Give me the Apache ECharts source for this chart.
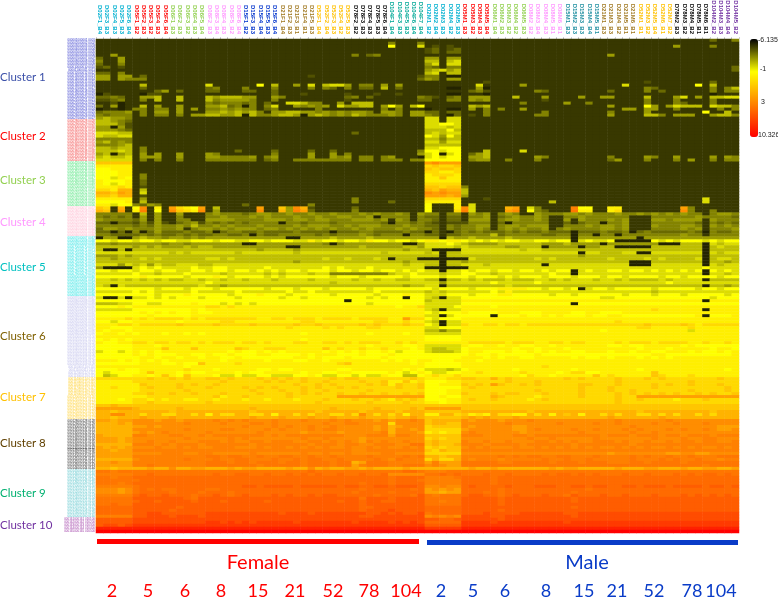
<!DOCTYPE html>
<html><head><meta charset="utf-8">
<style>html,body{margin:0;padding:0;background:#fff}#c{width:778px;height:598px}</style>
<script src="https://cdn.jsdelivr.net/npm/echarts@6/dist/echarts.min.js"></script>
</head><body><div id="c"></div>
<script>
// ---------- value legend ----------
const legendTicks = [-6.135, -1, 3, 10.326];
const levelKeys = 'x0123456789abcdefghijkl';
const levelValues = [-5.4,-5,-4.5,-4,-3.5,-3,-2.3,-1.7,-1,-0.5,0.2,0.8,1.4,2,2.6,3,3.6,4.2,5,6,7,8.5,10.326];
// ---------- column labels ----------
const femaleSamples = ['D02F1_B4','D02F3_B3','D02F4_B3','D02F5_B3','D02F6_B4','D05F1_B2','D05F2_B3','D05F3_B2','D05F4_B3','D05F6_B4','D06F1_B3','D06F2_B3','D06F3_B2','D06F4_B3','D06F5_B4','D08F2_B3','D08F3_B4','D08F4_B3','D08F5_B2','D08F6_B4','D15F1_B2','D15F3_B3','D15F4_B4','D15F5_B3','D15F6_B4','D21F1_B4','D21F2_B3','D21F3_B1','D21F4_B1','D21F5_B3','D52F1_B4','D52F2_B4','D52F3_B3','D52F4_B2','D52F5_B3','D78F2_B2','D78F3_B3','D78F4_B3','D78F5_B3','D78F6_B4','D104F1_B4','D104F3_B3','D104F5_B3','D104F6_B4','D104F7_B4'];
const maleSamples = ['D02M1_B2','D02M2_B4','D02M3_B3','D02M4_B2','D02M5_B3','D05M1_B3','D05M3_B2','D05M4_B3','D05M5_B4','D06M1_B4','D06M2_B3','D06M3_B2','D06M4_B2','D06M5_B3','D08M2_B2','D08M3_B4','D08M4_B3','D08M5_B1','D08M6_B1','D15M1_B3','D15M2_B3','D15M3_B3','D15M4_B4','D15M5_B1','D21M1_B3','D21M3_B3','D21M4_B2','D21M5_B1','D21M6_B1','D52M1_B1','D52M3_B2','D52M5_B4','D52M6_B1','D52M7_B2','D78M2_B3','D78M3_B2','D78M4_B2','D78M5_B1','D78M6_B1','D104M2_B2','D104M3_B3','D104M4_B4','D104M5_B2'];
const sampleGroupSizes = [5,5,5,5,5,5,5,5,5,5,4,5,5,5,5,5,5,4];
const sampleGroupColours = ['#00b0d0','#ff0000','#92d050','#ff99ff','#0033cc','#a07820','#ffc000','#000000','#00a896','#00b0d0','#ff0000','#92d050','#ff99ff','#1f8fa0','#a07820','#ffc000','#000000','#7030a0'];
// ---------- clusters ----------
const clusterNames = ['Cluster 1','Cluster 2','Cluster 3','Cluster 4','Cluster 5','Cluster 6','Cluster 7','Cluster 8','Cluster 9','Cluster 10'];
const clusterTitleColours = ['#3a4fa8','#ff0000','#92d050','#ff99ff','#00c0c0','#7f6000','#ffc000','#604000','#00b070','#7030a0'];
const clusterRowColours = ['#2a30c8','#f03838','#40e070','#ffb0c8','#20e0e0','#b8b8e8','#ffcc20','#181818','#50c0c8','#a040a8'];
const femaleWeeks = ['2','5','6','8','15','21','52','78','104'];
const maleWeeks = ['2','5','6','8','15','21','52','78','104'];
// Each row: "col:level" sparse cells (rest = background level 0), or a full row of level characters.
const cluster1Rows = [
"84:2 87:3",
"40:3 44:3",
"40:7 44:6 46:1 48:1 79:4 84:3",
"45:1 46:2 48:1 49:2",
"45:1 46:2 48:2 49:2",
"2:4 35:3 37:2 38:3 70:4",
"0:2 3:4 45:4 46:4 48:4 49:4",
"0:3 3:4 45:5 46:5 48:5 49:6",
"0:2 3:3 45:4 46:6 48:6 49:6",
"0:1 1:2 3:1 45:3 46:2 48:3 49:3 87:2",
"45:4 46:5 47:6 48:4 49:5 87:2",
"0:2 1:2 3:3 45:5 46:6 48:5 49:5",
"0:4 1:4 3:4 4:4 6:2 29:1 44:1 45:3 46:3 48:x 49:x",
"0:4 1:4 3:4 4:3 5:3 6:3 44:2 45:4 46:3 48:4 49:4",
"53:1 75:1 84:2",
"6:5 15:6 22:7 24:5 27:4 29:6 31:5 32:6 33:6 34:4 36:3 37:3 39:4 41:4 52:6 58:4 72:6 82:7 84:5",
"6:2 15:2 16:3 20:3 24:3 29:3 31:3 32:2 34:3 36:2 37:2 39:5 41:2 48:x 49:x 52:4 53:x 75:3 76:2 84:3 86:3 87:5",
"8:2 9:4 11:2 15:2 16:2 20:2 21:2 24:2 51:2 52:3 53:1 60:3 61:2 70:2 75:3 77:2 84:3 86:3 87:3",
"0:x 1:1 6:x 7:1 8:1 24:2 28:1 34:1 38:1 41:1 48:x 49:x 53:x 84:x",
"0:2 1:2 2:3 3:2 6:4 7:4 8:5 11:5 15:5 16:4 17:5 18:5 19:5 20:4 21:4 24:4 25:3 34:2 35:3 37:2 44:3 45:2 46:1 48:2 49:3 51:4 52:4 53:4 57:5 61:4 66:4 69:4 70:4 75:5 79:4 80:6 82:4 84:5 85:5 86:6 87:6",
"0:1 1:1 2:2 3:3 6:3 8:5 11:5 15:5 16:3 17:4 18:4 19:4 20:4 21:3 24:3 34:1 44:2 45:2 48:3 49:3 51:4 52:3 53:4 61:1 75:3 79:3 84:3",
"2:1 3:x 15:3 16:2 17:3 18:3 19:3 20:2 21:3 23:2 26:6 27:6 28:5 29:3 30:3 33:4 35:5 36:5 37:5 58:3 64:4 67:3 75:3 79:3 80:2 84:3",
"0:2 2:4 3:x 6:5 8:4 11:4 15:4 16:4 17:5 18:2 19:3 20:x 21:3 23:3 24:6 27:4 28:3 29:4 30:3 31:4 33:6 34:4 35:4 36:5 37:5 39:4 40:7 41:4 43:5 44:7 51:5 52:4 53:5 70:4 75:7 76:4 78:4 79:6 80:5 81:5 82:5 84:6 85:5 86:5 87:3",
"0:x 3:x 5:3 6:3 8:3 9:3 11:4 13:4 15:3 16:3 17:4 18:3 19:4 20:3 21:3 23:2 24:3 30:3 39:3 41:3 45:x 48:x 49:x 51:4 53:3 55:3 58:4 72:4 73:4 75:4 76:4 79:3 85:3 87:3",
"0:2 1:3 2:3 3:3 4:4 6:3 8:4 9:4 11:4 15:4 16:4 17:5 18:4 19:5 20:4 21:5 22:3 24:4 25:4 26:5 27:5 28:4 29:4 30:3 31:4 32:3 33:4 34:3 35:4 36:4 37:3 39:4 40:4 41:3 43:4 44:4 45:2 46:2 48:2 49:2 53:3 61:3 70:3 75:4 83:7 86:5",
"0:3 1:2 2:3 3:3 4:3 6:3 8:3 9:3 11:3 13:4 14:4 15:5 16:5 17:4 18:4 19:5 20:x 21:5 22:3 23:3 24:4 25:5 26:5 27:4 28:x 29:4 30:5 31:4 32:3 33:4 34:3 35:5 36:4 37:3 38:3 39:3 40:4 41:3 43:4 44:4 45:3 46:2 48:x 49:2 51:1 53:3 60:3 61:3 70:4 75:5 76:5 77:3 79:4 80:4 81:4 84:4 85:5 86:5 87:3",
"0:4 1:5 2:4 3:4 4:3 45:6 46:6 48:6 49:6"
];
const cluster2Rows = [
"0:5 1:5 2:4 3:3 4:2 45:6 46:6 48:6 49:6",
"0:5 1:5 2:5 3:3 4:1 45:6 46:6 47:7 48:7 49:6",
"0:4 1:4 2:x 3:4 4:1 45:6 46:6 47:6 48:5 49:6",
"0:4 1:4 2:4 3:3 4:2 45:5 46:5 47:5 48:7 49:5",
"0:6 1:6 2:6 3:5 4:5 35:2 45:5 46:6 47:5 48:6 49:6",
"0:6 1:5 2:5 3:6 4:6 45:7 46:6 47:4 48:7 49:5",
"0:3 1:3 2:3 3:3 4:3 45:5 46:5 47:3 48:5 49:5",
"0:4 1:5 2:3 3:4 4:3 45:6 46:6 47:4 48:6 49:6",
"0:3 1:3 2:3 3:4 4:5 45:5 46:5 47:5 48:5 49:5",
"0:5 1:5 2:4 3:5 4:5 6:3 45:6 46:6 47:7 48:7 49:7",
"0:5 1:5 2:5 3:6 4:5 6:3 19:2 24:2 29:2 32:2 44:3 45:7 46:7 47:6 48:7 49:7 53:5 58:6",
"0:4 1:5 2:x 3:4 4:5 6:4 8:4 11:4 15:4 16:3 24:3 29:4 32:4 34:3 44:4 45:6 46:7 47:x 48:6 49:7 51:2 52:4 53:5",
"0:5 1:6 2:5 3:5 4:6 6:4 7:4 8:4 11:4 15:4 16:4 17:3 18:3 19:3 20:3 21:4 23:3 24:4 29:4 32:4 33:3 34:4 36:3 37:3 39:3 40:4 44:x 45:6 46:7 47:6 48:7 49:7 51:4 52:4 53:5 60:4 61:3 70:3 75:4 76:3 79:4 84:4 86:4 87:3",
"0:6 1:6 2:6 3:6 4:6 6:3 8:3 11:3 15:3 16:3 17:3 18:3 19:3 20:3 21:3 23:2 24:3 27:3 28:3 29:3 30:3 31:3 32:3 33:3 34:3 36:3 37:3 39:3 40:3 41:3 43:3 44:3 45:7 46:7 47:7 48:7 49:7 51:3 52:4 53:4 56:3 60:3 70:2 71:4 75:3 79:3 81:4 84:3 86:3 87:3"
];
const cluster3Rows = [
"0:a 1:a 2:a 3:a 4:a 45:c 46:d 47:c 48:c 49:c",
"0:8 1:8 2:8 3:8 4:8 45:9 46:a 47:9 48:9 49:a",
"0:7 1:7 2:8 3:8 4:8 45:a 46:9 47:a 48:a 49:9",
"0:7 1:7 2:7 3:8 4:8 45:9 46:9 47:8 48:8 49:9",
"0:7 1:7 2:7 3:8 4:8 6:3 45:8 46:9 47:9 48:9 49:8",
"0:7 1:7 2:6 3:8 4:7 6:3 45:8 46:8 47:a 48:8 49:8",
"0:8 1:7 2:7 3:7 4:8 6:2 45:8 46:8 47:8 48:8 49:8",
"0:8 1:7 2:6 3:7 4:8 6:2 45:9 46:9 47:9 48:9 49:9",
"0:8 1:8 2:8 3:9 4:8 6:1 45:a 46:a 47:9 48:a 49:a 50:3",
"0:9 1:9 2:8 3:b 4:b 6:5 45:b 46:a 47:c 48:b 49:b 50:5",
"0:b 1:b 2:a 3:c 4:b 6:6 45:d 46:c 47:d 48:c 49:c 50:5",
"0:a 1:a 2:9 3:b 4:b 6:1 45:c 46:c 47:c 48:b 49:c 50:4",
"0:8 1:8 2:8 3:8 4:8 6:4 35:3 45:9 46:9 47:9 48:9 49:9 53:1 83:6",
"0:7 1:7 2:7 3:7 4:8 6:5 35:3 40:2 45:8 46:8 47:8 48:8 49:8 62:5 83:6",
"0:8 1:8 2:6 3:7 4:7 5:3 6:2 7:4 8:3 20:2 29:3 45:7 49:8 51:6"
];
const cluster4Rows = [
"0:a 1:9 3:b 5:7 6:d 8:8 10:c 11:9 12:8 13:7 14:c 16:5 22:c 25:a 26:4 27:d 28:b 29:1 35:2 45:7 49:8 50:d 51:6 56:b 57:c 59:6 60:3 65:e 66:7 67:7 70:8 71:8 80:c 81:3",
"0:b 1:a 3:c 5:8 6:e 8:7 10:d 11:a 12:9 13:8 14:d 16:4 22:d 25:b 26:4 27:e 28:c 29:2 35:3 45:7 49:9 50:e 51:6 56:c 57:d 59:7 60:3 61:2 65:f 66:8 67:8 70:8 71:9 80:d 81:3 84:3",
"33333 05040 04000 34333 23443 34334 33433 34343 34304 33033 0434 03430 04333 44343 33433 43434 34330 3443",
"32323 04040 03000 33433 34343 33433 43344 334x3 33303 22022 0334 02343 34300 33433 33330 00333 33343 3332",
"43333 24040 03300 44443 33344 43443 44333 44434 04303 32022 0444 03443 34300 40433 34340 00443 44440 4333",
"22x22 13141 02341 32323 23333 x3323 33233 33332 x3323 21011 1333 02x33 33300 20233 x3340 00333 33320 3232",
"33333 23243 34353 34343 33433 33434 44334 34443 33433 22032 3344 03443 44400 33343 44340 00433 34430 4343",
"24434 33343 34034 43434 44344 34343 43433 43433 34343 32032 3343 03434 33403 43333 44340 00333 34340 3334",
"22x2x 3x242 22322 3x233 22322 22322 22x22 23322 22322 x20x2 3232 22323 22322 2x222 3223x 23222 2232x 3223",
"33222 23232 23232 23322 3x322 33333 23233 34323 33x33 22022 3333 52333 33223 3x33x 33x33 33333 34330 3333"
];
const cluster5Rows = [
"x44xx 45443 44343 44444 44444 4xx44 44544 44544 44444 44x54 4544 44544 44444 4x444 44444 x4444 44444 4444",
"77677 67767 76677 76776 67767 77668 67767 76877 67767 88788 7676 76776 67767 7x676 67xxx xx767 67776 7677",
"44344 44443 44344 44444 xx444 44444 43x34 44444 44xx4 66676 5444 45555 55444 54444 x4444 444xx x555x 6566",
"55555 45454 44545 54444 44444 4xx44 44444 45444 44554 66665 6555 55445 55x44 44x44 55xxx xx555 5555x 5655",
"5xx5x 55555 55555 55555 55455 55455 55555 55555 55455 5xxxx 6666 66665 66555 55555 55555 55555 5555x 5555",
"66666 66666 56566 66665 66666 66566 66666 66665 66666 56x55 6666 66666 66666 66x66 55566 xx666 6666x 6566",
"44454 55555 55555 55555 55555 55555 55555 55555 55555 55x55 5555 55555 55555 55455 55555 55555 5555x 5555",
"55455 56565 55555 66565 55555 55555 56556 55565 x555x xxxxx x655 55555 56565 55555 56555 56565 5556x 5665",
"55555 55555 55555 55555 55555 55455 55555 55555 55455 55x55 4555 55555 55555 55555 5555x xx555 5555x 5545",
"66646 56465 56665 56666 66666 66666 66666 66666 66566 55x55 6665 66666 66x66 66666 6666x xx666 6666x 6566",
"4xxxx 67676 66676 67766 66676 66666 67676 66766 66666 xxxxx x666 66666 66666 66666 66666 66666 66667 6666",
"77677 67767 76677 67767 76767 67767 77677 67767 76767 66x66 7677 67767 76767 7x676 67767 76767 6767x 7676",
"66666 76656 66766 66566 66656 56665 66333 33333 56676 66566 7766 56666 66676 6x666 66666 66666 6666x 6656",
"77777 78777 77677 78767 77767 67777 77677 76777 77677 77677 7677 76767 77677 76777 67767 77767 76777 7677",
"66565 65656 55665 66566 56665 66665 66666 56656 65566 55x55 6565 55655 56656 56665 66565 55565 6666x 5555",
"66666 66666 66666 76666 66666 66666 66566 66666 66666 66466 6666 76666 67666 66666 66666 66667 66666 6666",
"65x65 55555 55556 55455 55555 55555 55555 55555 55455 66x55 5555 55655 55555 55555 55555 55555 5555x 5545",
"77777 77767 77677 76777 77767 77677 76777 77677 77777 76777 7677 78888 77677 67x67 76777 77677 77767 7677",
"66666 76766 66676 66667 66666 67667 66666 66676 66666 56566 6666 76866 66666 66666 66666 66566 66666 6666",
"77777 77767 77877 77767 77877 76777 77677 77767 77877 66677 7677 78877 77767 76777 77767 77677 76777 7767"
];
const cluster6Rows = [
"6xx6x 66767 67776 77776 77777 67767 77777 77676 77x77 65x66 7777 77777 77777 77777 66777 77777 77777 6777",
"77777 77777 77777 77777 77777 77777 7777x 77777 77777 56666 8888 88888 88888 88888 88888 88888 8888x 8888",
"55566 77667 77787 77676 76777 77777 77777 77677 77777 66666 7777 77777 77777 7x777 77777 77777 77777 7777",
"77787 88888 88888 99898 88888 88888 88888 88888 87889 66667 8888 78888 88888 88888 88888 88888 88888 8888",
"66666 77777 77787 88888 88888 88888 88888 88888 88888 65x66 8888 88888 88888 88888 88888 88988 8888x 8888",
"77777 78787 87787 78888 88888 88888 88888 88888 88888 76777 8777 78887 77888 87788 77788 88888 88888 8888",
"77777 77877 77788 88888 88888 88888 88888 88888 88888 66x67 7777 x7778 77878 77787 78877 77777 7778x 7778",
"88889 89899 99898 99999 99889 98999 89999 89999 88c99 76777 8888 88888 88888 88888 88888 88888 88888 8888",
"77677 88888 87888 88998 88888 88899 88888 88899 88988 65x66 8888 88888 88888 88888 88988 88888 88888 8888",
"88899 89999 9a999 9a999 9a999 99a99 a9999 9a9a9 99a99 76x66 9889 98998 99999 99999 99999 9a999 9a989 9999",
"88777 88888 88888 88888 88888 89888 89898 88998 88888 66777 8888 88888 88888 88888 88888 99888 88988 8888",
"87887 88888 88888 88888 88888 88888 88888 88888 88888 55355 8888 88888 88888 88888 78888 88888 88688 8888",
"78878 78887 88787 88888 88888 88878 88888 88788 88788 66666 8888 88888 88888 88888 88888 88888 88888 8888",
"88888 88888 88888 88888 88888 88888 88888 88888 88888 77777 8888 88888 88888 88888 88888 88888 88888 8888",
"78787 88888 88888 88888 88888 88878 88888 88888 88888 77777 8888 88888 88888 88888 88888 88888 88888 8888",
"87788 99899 89989 89998 99898 88998 89989 89998 89898 88888 8999 99899 98899 89988 88989 99899 99889 8898",
"77777 88878 88888 88888 88888 88888 88888 88788 88778 66666 8778 87887 78878 88888 87787 78888 87877 7777",
"77777 8888a 888a8 8888a 98899 98888 8a898 89889 88878 65566 7888 88878 87888 78888 88888 78887 88888 7887",
"67767 87878 88888 88878 77878 78888 87878 78778 76777 65556 7887 77877 87878 87788 87887 88778 88787 7878",
"77777 87877 78877 87787 77887 77787 88877 78777 87777 77777 7877 87777 78777 77777 77777 77887 77777 7778",
"77777 78878 87887 88778 77777 77887 87778 77778 77777 77777 8887 87887 78888 87877 87888 78787 88888 8888",
"88878 78787 88888 88788 88878 88778 87888 88887 87878 87778 8878 88888 88888 88888 88888 88888 88888 8888",
"77777 78887 7877a 88889 88888 88888 8889a 88888 88878 77777 8888 88888 88888 88888 88888 88888 88888 8888",
"88888 88888 88788 88888 88888 88888 88888 88888 88888 77777 8888 88888 88988 88888 88888 88888 88888 8888",
"77787 78888 88988 87888 88778 77888 88877 88888 88787 66656 7888 88878 88888 87888 88888 78888 88888 8878",
"76777 78a88 87877 88887 87788 88878 87788 77777 87678 76677 8898 88889 88887 89977 88888 88a88 88888 8888",
"75677 8878a 87a88 87667 66776 66778 76677 67668 77557 89889 8888 88887 98878 8888a 89888 88a98 88988 8888"
];
const cluster7Rows = [
"99999 99a99 a9a99 aa9a9 99a9a 9a9a9 99a9a a9999 999a9 88899 aa99 b9a99 99999 a9a99 99a99 9a9a9 99999 9a99",
"88888 99999 99999 99a99 999a9 a99a9 9a999 9a99a 88a89 77788 9999 99a99 9a999 99999 99a99 99999 99a99 9999",
"88888 8a999 9a9a9 9a999 99999 99a99 a9a99 99a9a 8a99a 77888 a9a9 ca99a 9a999 99aa9 99a99 99a9a 99a99 9a99",
"88988 89a99 9a999 a9999 a9a9a 999a9 a99a9 a9999 9a99a 77777 9a99 99999 99999 99a99 9a999 99a99 99999 99a9",
"88888 89999 99a99 99999 9a999 a99a9 9a999 99a99 99999 77788 9999 99999 9a999 99a99 9a99a 99999 99a99 99a9",
"88888 99a99 a99a9 99a99 99a99 9a9a9 a99a9 9a99a 99a9a 77788 a999 a9aa9 99a99 99a99 99a9a 9a9a9 a99a9 a99a",
"88888 88999 99999 9a899 a9999 9a999 999cc ccccc ccccc 77877 9999 ba999 98999 99a99 99a99 ccccc ccccc cccc",
"88878 99898 99889 98999 89989 99899 9a999 a99a9 8a9a9 77788 9a99 a9999 89a99 99999 99a99 a9999 8999a 9999",
"88888 99a99 99999 a9999 99999 99999 a9999 99a99 99a99 88788 9999 99999 99999 99999 99a99 99999 99999 9999",
"aabaa aaaaa aaaaa aaaaa aaaaa aaaaa aaaaa aaaaa aaaaa aaaaa aaaa aaaaa aaaaa aaaaa aaaaa aaaaa aaaaa aaaa",
"ccccc baaaa abaaa aaaaa abaaa aaaaa aabaa aaaba aaaba ccccc aaaa aaaaa aaaaa aaaaa aaaaa aaaaa aaaaa aaaa",
"bbabb bbbbb abbbb bbbbb babbb bbbbb abbbb babbb babbb aaaaa bbbb bbbbb abbbb bbbbb bbbbb abbbb bbbbb abbb",
"bbddb b9bb9 9bb9b 8b99b b99b8 bb9b9 bb99b 9db9b 9b8bb 88bb9 a898 b9988 b9b8b ab8bb 9b9bb 99b9b 9bb9b 9bbb",
"bbabb bcbbb cbbbb bbbbb bcbbb cbbbc bbcbb bcbbb abbcb aaaaa bcbc bbbcb bbbbb bbbbb bcbbb bbbcb bbbbb bbbb"
];
const cluster8Rows = [
"ccbcc dddcd dcddd deded eddde ddded ddede dddcd cdded abbbb dcdd dcddd edddd ddddd ddedd dddde ddddd dddd",
"bbbcb ddddd ddedd ddedd deede ddddd dedde edddd 9dddd abbaa dddd ddedd dddde dddde ddedd ddedd eddde dddd",
"bbbbb ccdcd ddddd ddddd eddde dedde ddedd dddcd bcddd 9aaaa dcdd dddcc ddddd ddddd dddde ddddd ddddd dccc",
"bbbbb ddddd ddedd ddeed ddded eddde deedd dddcd bddcd 99999 cddd dddcc deddd dedde ddded eddde dedde dccd",
"bbbbb cdcde ddddd edddd ddedd dddcd dddcd dddde bdddc 89899 dedd ddddc ddddd ddedd dddde ddedd ddddd dddd",
"cbbbb eeddd eedde deeee eeede deeee eeeed ddeee ceedd aaaaa eeed dddee deeee eeeee deeed eeede edeee deee",
"cccbc ddddd ddedd ddded edddd ddded deddd dcddd ddddd 9a9aa dddd ddddd edded dddde ddddd ddedd dedde eddd",
"cccbc ddedd eddde eeded deede eedde edede dcede ddedd abaaa edde ddedd deede dedde eeded dedde deede edde",
"bbbbb eeede deeed eeeee edeee eeeed eeede eddee eddff abaab eeed eeeed eeeee edeee eeeed eeeee eeeee eeee",
"cbcbc ddded deded deeed ddede edede dedde ddede ddede 9a9aa dede ddded deded edede ddede dedde deded dede",
"ccbcc eeeee eeeee eeeee eeeee eeeee eeeee ddeee eeeee a9baa eeee eeeee eeeee eeeee eeeee eeeee eeeee eeee",
"ccccc dddde eedde edddd deddd ddded dedde dddde edddd 99999 dddd ddddd ddddd ddddd dcddd ddddc cddcc dddd",
"ccccc eeeee eeeee ffeff eefee ffeef eefee eefee eefef bbabb eeee efefe ffeef feeef eeeef efeef eefee efff",
"bbbbb deeee eefee efeef feeef eefef feefe eeefe dfeee 9b99b edee edeee eefee feefe eeeef eeefe feefe edee",
"ccdcc eeeee eeeee fffef fefff effef ffeff bcfff eeeee ceccc ffff feeff fffef ffeff feeef fefff fefff ffff",
"ccccc eefee eeeee fffff ffeff fffef ffeff cefff eefff dedcc ffff fffff fffff fffff fffff fffff ffffe ffff",
"bbabb bbcbb dbbcc bbbcb ccbbb bcbbd bcbbc cbcbb bbcbb bbbbb bcbb cbbbb bbbcb ccbbb bbcbb bccbb bcbbc cbbc"
];
const cluster9Rows = [
"ffeff fffff fffff fffff fffff ffffg fffff fffff ffggf eeeff ffff fffff fffff fffff fffff fffff fffff ffff",
"eeeee ffgff fffff fgffg gffgf fgfgf gffgf fgffg ddddd ffgf gfffg ffgff ffgfg gfgfg fffgf fgfff gfgfg gfgf",
"ffeff ggggg ggggg ggggg ggggg ggggg ggggg ggggg fgggg eeeef gggg fgggg ggggg ggggg ggggg ggggg ggggg gggg",
"fffff fgggg ggggg ggggg ggggg ggggg ggggg ggggg fgggf eeeee gggg fgggg ggggg ggggg ggggg ggggg ggggg gggg",
"fffef ggggg ggggg ggggg ggggg ggggg ggggg gfggg fgggg eeeee gggg fgggg ggggg ggggg ggggg ggggg ggggg gggg",
"eeeee fgggg ggggg ggggg hhghh hhghh hhhgh hgghh ghhhg ddedd ghgg gghgg ghhhg ghhgh hgghh ghhhg hhhhg hhgh",
"dddcd fgfgf fgggg ffggg ggggg ggggg ggggg gfggg gggfg cdcdc gggg gfggg ggggg gggfg ggggg ggggg ggggg gggg",
"dddcd fgggg fgggf gggfg ggggg ggggg ggggg fgggg fgggg ccbcc gggf gfggg ggggg gfggg ggggg ggggg ggggg gggg",
"eeeee ghggh gggfg ghgfg hgggh ghggh ghhgg gggfg gggfh fefff ghhg gfghg gghgg fhggg hgghg gghgg ghghg hghg",
"fffff hhhhh hhgfh hhhhh hhhhh hhhhh hhhhh hfhhh ghhhh fffff hhhh hghhh hhhhh hghhh hhhhh hhhhh hhhhh hhhh",
"fffff ghhgh hhhgh hhghh hhhgh hhhhh hhhgh hghhg ghhhh ffeff hhhh hghhh hhhhh hghhh hhhhh hhhhh hhhhh hhhh",
"ffgff hhhhh hhhhh hhhhh hhhhh hhhhh hhhhh hghhh hhhhh fffff hhhh hghhh hhhhh hhhhh hhhhh hhhhh hhhhh hhhh",
"ggggg hhhhh hghhh hhhhh hhhhh hhhhh hhhhh hgghh hhhhh ggggg hhhh hhhhh hhhhh hghhh hhhhh hhhhh hhhhh hhhh",
"ggggg hhhhh ghhhh hhhhh hhhhh hhhhh hhhhh hghhh ihhhh ggggg hhhh hghhh hhhhh hhhhh hhhhh hhhhh hhhhh hhhh",
"ggggg hhiih hhhhh iiiii iiiii hiiih iiiii iihhi hihhi fgggg hhhi hhhhi iiiii hhiii iiiii iiiii iiiii iiii",
"eeeee hhiii hiiih iiiii iiiii iiiii iiiii ihhii iiiii deded iiii hhiii iiiii ihiii iiiii iiiii iiiii iiii"
];
const cluster10Rows = [
"hhhhh iiiii iiiii iiiii iiiii iiiii iiiii iiiii iiiii hhggh iiii ihiii iiiii iiiii iiiii iiiii iiiii iiii",
"hhhhh iiiii iiiii jjiji jijjj jjijj jjjjj ijjjj ijiji ggggg jjjj ijjjj jjjjj ijjjj jjjjj jjjjj jjjjj jjjj",
"hiihi jjjjj jjjjj jjjjj jjjjj jjjjj jjjjj jjjjj jjjjj hhhhh jjjj jjjjj jjjjj jjjjj jjjjj jjjjj jjjjj jjjj",
"kkkkk kkkkk kkkkk kkkkk kkkkk kkkkk kkkkk kkkkk kkkkk jjjjj kkkk kkkkk kkkkk kkkkk kkkkk kkkkk kkkkk kkkk",
"lllll lllll lllll lllll lllll lllll lllll lllll lllll lllll llll lllll lllll lllll lllll lllll lllll llll"
];
const clusters = [cluster1Rows,cluster2Rows,cluster3Rows,cluster4Rows,cluster5Rows,cluster6Rows,cluster7Rows,cluster8Rows,cluster9Rows,cluster10Rows];

// ---------- build ----------
const samples = femaleSamples.concat(maleSamples);
const nCols = samples.length;
function rowLevels(s){
  const out = new Array(nCols).fill('0');
  if (s.indexOf(':')>=0) s.split(' ').forEach(t=>{const p=t.split(':');out[+p[0]]=p[1];});
  else s.replace(/ /g,'').split('').forEach((ch,i)=>{if(i<nCols)out[i]=ch;});
  return out;
}
// the colour bar spaces its four ticks evenly, so a value is placed by the segment it falls in
function scalePos(v){
  for(let i=0;i<3;i++) if(v<=legendTicks[i+1]) return i+(v-legendTicks[i])/(legendTicks[i+1]-legendTicks[i]);
  return 3;
}
const colData=[]; let gi=0, gLeft=sampleGroupSizes[0];
samples.forEach(n=>{
  colData.push({value:n,textStyle:{color:sampleGroupColours[gi]}});
  if(--gLeft===0&&gi<sampleGroupSizes.length-1){gi++;gLeft=sampleGroupSizes[gi];}
});
const rowData=[], cells=[]; let r=0;
clusters.forEach((rows,k)=>{
  rows.forEach(s=>{
    const id=String(r+1).padStart(3,'0');
    const name='000'+id+'000'+id+' 0'+id+(k===9?'00':'');
    rowData.push({value:name,textStyle:{color:clusterRowColours[k]}});
    rowLevels(s).forEach((ch,c)=>{
      cells.push([c,r,scalePos(levelValues[levelKeys.indexOf(ch)])]);
    });
    r++;
  });
});

// ---------- annotation layout ----------
const clusterTitleY=[77,136,180,222,267,336,397,443,493,525];
const femaleWeekX=[112,148,185,221,258,295,333,369,406];
const maleWeekX=[441,473,505,546,584,617,654,692,721];
const legendTickX=[758,760,761,758];
const legendTickY=[40,69,102,135];
const gfx=[];
const FONT='Lato, "Open Sans", sans-serif';
clusterNames.forEach((n,i)=>gfx.push({type:'text',style:{text:n,x:0,y:clusterTitleY[i],fill:clusterTitleColours[i],font:'11.5px '+FONT,textVerticalAlign:'middle'}}));
gfx.push({type:'rect',shape:{x:97,y:539,width:322,height:5},style:{fill:'#ff0000'}});
gfx.push({type:'rect',shape:{x:427,y:540,width:311,height:5},style:{fill:'#0a3cc8'}});
gfx.push({type:'text',style:{text:'Female',x:258,y:563,fill:'#ff0000',font:'20px '+FONT,textAlign:'center',textVerticalAlign:'middle'}});
gfx.push({type:'text',style:{text:'Male',x:587,y:563,fill:'#0a3cc8',font:'20px '+FONT,textAlign:'center',textVerticalAlign:'middle'}});
femaleWeeks.forEach((w,i)=>gfx.push({type:'text',style:{text:w,x:femaleWeekX[i],y:591,fill:'#ff0000',font:'18px '+FONT,textAlign:'center',textVerticalAlign:'middle'}}));
maleWeeks.forEach((w,i)=>gfx.push({type:'text',style:{text:w,x:maleWeekX[i],y:591,fill:'#0a3cc8',font:'18px '+FONT,textAlign:'center',textVerticalAlign:'middle'}}));
legendTicks.forEach((t,i)=>gfx.push({type:'text',style:{text:String(t),x:legendTickX[i],y:legendTickY[i],fill:'#222',font:'7px "Liberation Sans", sans-serif',textVerticalAlign:'middle'}}));

const chart=echarts.init(document.getElementById('c'),null,{renderer:'canvas'});
chart.setOption({
  animation:false,
  backgroundColor:'#fff',
  grid:{left:96,top:39,width:643,height:494,containLabel:false,outerBoundsMode:'none'},
  xAxis:{type:'category',position:'top',data:colData,
    axisLine:{show:false},
    axisTick:{show:true,length:2,lineStyle:{color:'#cfcfd8',width:1}},
    splitLine:{show:false},
    axisLabel:{interval:0,rotate:90,fontSize:6,fontWeight:'bold',margin:5,hideOverlap:false,fontFamily:'"Liberation Sans",Arial,sans-serif'}},
  yAxis:{type:'category',inverse:true,data:rowData,
    axisLine:{show:false},axisTick:{show:false},splitLine:{show:false},
    axisLabel:{interval:0,fontSize:3,margin:1,hideOverlap:false,fontFamily:'"Liberation Sans",Arial,sans-serif'}},
  visualMap:[{type:'continuous',dimension:2,seriesIndex:0,min:0,max:3,inverse:true,calculable:false,
    left:750,top:39,itemWidth:8,itemHeight:98,padding:0,text:null,showLabel:false,hoverLink:false,realtime:false,
    borderColor:'#223388',borderWidth:0,
    inRange:{color:['#000000','#ffff00','#ff8000','#ff0000']}}],
  series:[{type:'heatmap',data:cells,progressive:0,silent:true,emphasis:{disabled:true},itemStyle:{borderWidth:0}}],
  graphic:gfx
});
</script></body></html>
